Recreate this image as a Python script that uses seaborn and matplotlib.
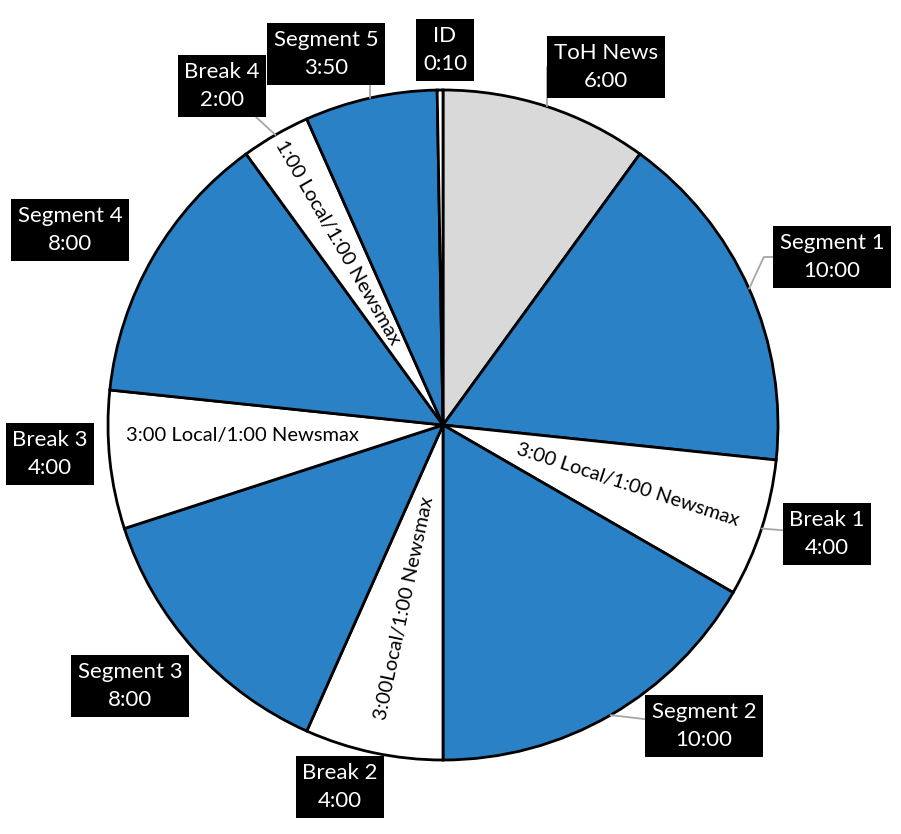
import matplotlib.pyplot as plt
import seaborn as sns
import numpy as np

# hour clock: one slot per part of the hour, durations in seconds
segments = ['ToH News', 'Segment 1', 'Break 1', 'Segment 2', 'Break 2', 'Segment 3',
            'Break 3', 'Segment 4', 'Break 4', 'Segment 5', 'ID']
durations = [360, 600, 240, 600, 240, 480, 240, 480, 120, 230, 10]
time_labels = ['6:00', '10:00', '4:00', '10:00', '4:00', '8:00', '4:00', '8:00', '2:00', '3:50', '0:10']
break_notes = {
    'Break 1': '3:00 Local/1:00 Newsmax',
    'Break 2': '3:00Local/1:00 Newsmax',
    'Break 3': '3:00 Local/1:00 Newsmax',
    'Break 4': '1:00 Local/1:00 Newsmax',
}

sns.set_theme(style='white')
plt.rcParams['font.family'] = ['Lato', 'DejaVu Sans']

BLUE = '#2A81C5'
GREY = '#D9D9D9'
colors = []
for s in segments:
    if s.startswith('Segment'):
        colors.append(BLUE)
    elif s == 'ToH News':
        colors.append(GREY)
    else:
        colors.append('white')

# pixel layout of the reference
W, H = 901, 834
CX, CY, R = 443, 425, 335


def px(x, y):
    return (x - CX) / R, (CY - y) / R


# box centres (pixels) and leader line style
label_pos = {
    'ToH News': (606, 67), 'Segment 1': (832, 257), 'Break 1': (827, 534),
    'Segment 2': (704, 726), 'Break 2': (340, 787), 'Segment 3': (130, 686),
    'Break 3': (50, 454), 'Segment 4': (70, 230), 'Break 4': (222, 86),
    'Segment 5': (326, 54), 'ID': (445, 50),
}
leaders = {
    'ToH News': 'angle,angleA=0,angleB=90',
    'Segment 1': 'angle,angleA=0,angleB=65',
    'Break 1': 'arc3,rad=0',
    'Segment 2': 'arc3,rad=0',
    'Break 4': 'arc3,rad=0',
    'Segment 5': 'angle,angleA=0,angleB=90',
}
note_radius = {'Break 1': 0.58, 'Break 2': 0.56, 'Break 3': 0.60, 'Break 4': 0.63}
note_shift = {'Break 3': -3}   # degrees
note_rot = {'Break 3': 0}

fig = plt.figure(figsize=(W / 100, H / 100), dpi=100)
ax = fig.add_axes([0, 0, 1, 1])

ax.pie(durations, colors=colors, startangle=90, counterclock=False, radius=1,
       wedgeprops=dict(edgecolor='black', linewidth=2.0))

total = sum(durations)
cum = np.cumsum([0] + durations[:-1])
for name, start, d, tl in zip(segments, cum, durations, time_labels):
    mid = 90 - 360 * (start + d / 2) / total
    xy = (np.cos(np.radians(mid)), np.sin(np.radians(mid)))
    tx, ty = px(*label_pos[name])
    bbox = dict(boxstyle='square,pad=0.3', facecolor='black', edgecolor='none')
    if name in leaders:
        ax.annotate(f'{name}\n{tl}', xy=xy, xytext=(tx, ty), ha='center', va='center',
                    color='white', fontsize=16, linespacing=1.55, bbox=bbox,
                    arrowprops=dict(arrowstyle='-', color='#A6A6A6', lw=1.3,
                                    shrinkA=0, shrinkB=0, connectionstyle=leaders[name]))
    else:
        ax.text(tx, ty, f'{name}\n{tl}', ha='center', va='center', color='white',
                fontsize=16, linespacing=1.55, bbox=bbox)

    if name in break_notes:
        r = note_radius[name]
        rot = mid + 180 if mid < -90 else mid
        if mid > 90:
            rot = mid - 180
        rot = note_rot.get(name, rot)
        a = np.radians(mid + note_shift.get(name, 0))
        ax.text(r * np.cos(a), r * np.sin(a), break_notes[name],
                ha='center', va='center', rotation=rot, rotation_mode='anchor',
                fontsize=14.5, color='black')

ax.set_xlim(-CX / R, (W - CX) / R)
ax.set_ylim(-(H - CY) / R, CY / R)
ax.axis('off')

fig.savefig('out.png', dpi=100)
